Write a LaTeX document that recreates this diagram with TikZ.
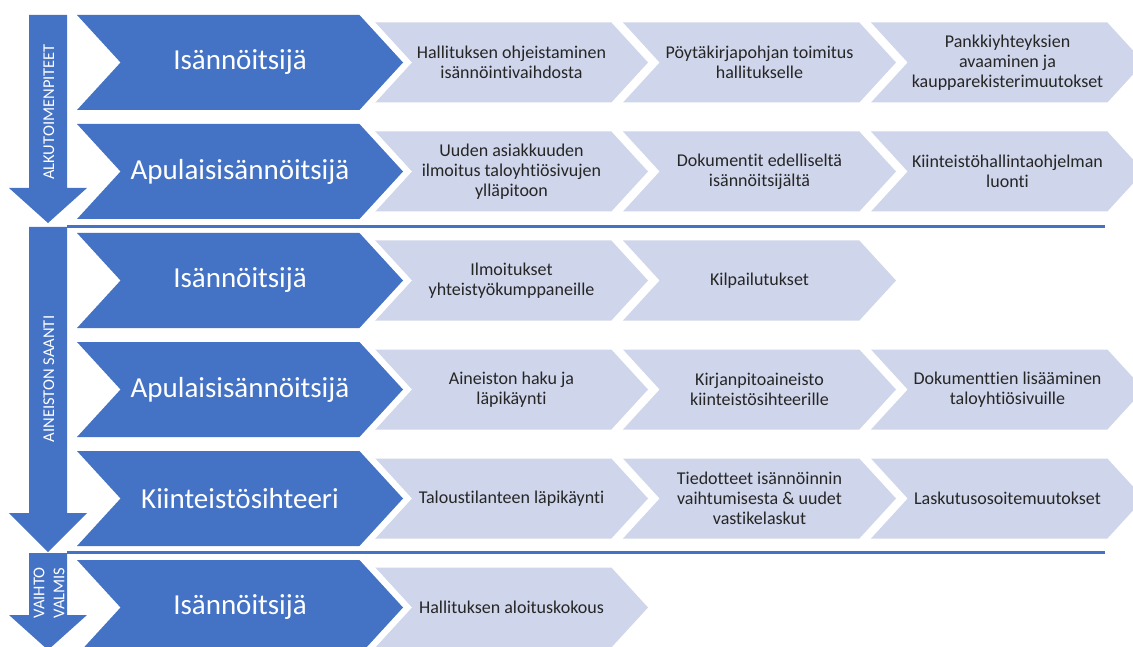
\documentclass[tikz,border=0pt]{standalone}
\usepackage{fontspec}
\setmainfont{Carlito}[Ligatures={TeX,NoCommon}]
\usepackage{tikz}
\usetikzlibrary{shapes.symbols}

\definecolor{roleblue}{HTML}{4472C4}
\definecolor{tasklav}{HTML}{CFD5EA}
\definecolor{tasktext}{HTML}{262626}

\begin{document}
\begin{tikzpicture}[x=1pt, y=-1pt,
    role/.style={signal, signal from=west, signal to=east, signal pointer angle=95, fill=roleblue, minimum width=326pt, minimum height=95pt, inner sep=0pt, text=white, font=\fontsize{29}{34}\selectfont, preaction={draw=white, line width=13pt}},
    task/.style={signal, signal from=west, signal to=east, signal pointer angle=95, fill=tasklav, minimum width=273pt, minimum height=80pt, inner sep=0pt, text=tasktext, align=center, font=\fontsize{18}{20}\selectfont},
    phase/.style={text=white, rotate=90, align=center, inner sep=0pt, font=\fontsize{16.5}{20}\selectfont},
    divider/.style={draw=roleblue, line width=3pt}
]
\useasboundingbox (0,0) rectangle (1133,647);

% Tasks (drawn first, roles overlap them)
\node[task] (t11) at (511.5,62.5) {Hallituksen ohjeistaminen\\isännöintivaihdosta};
\node[task] (t12) at (759.5,62.5) {Pöytäkirjapohjan toimitus\\hallitukselle};
\node[task] (t13) at (1007.5,62.5) {Pankkiyhteyksien\\avaaminen ja\\kaupparekisterimuutokset};

\node[task] (t21) at (511.5,171.5) {Uuden asiakkuuden\\ilmoitus taloyhtiösivujen\\ylläpitoon};
\node[task] (t22) at (759.5,171.5) {Dokumentit edelliseltä\\isännöitsijältä};
\node[task] (t23) at (1007.5,171.5) {Kiinteistöhallintaohjelman\\luonti};

\node[task] (t31) at (511.5,280.5) {Ilmoitukset\\yhteistyökumppaneille};
\node[task] (t32) at (759.5,280.5) {Kilpailutukset};

\node[task] (t41) at (511.5,389.5) {Aineiston haku ja\\läpikäynti};
\node[task] (t42) at (759.5,389.5) {Kirjanpitoaineisto\\kiinteistösihteerille};
\node[task] (t43) at (1007.5,389.5) {Dokumenttien lisääminen\\taloyhtiösivuille};

\node[task] (t51) at (511.5,498.5) {Taloustilanteen läpikäynti};
\node[task] (t52) at (759.5,498.5) {Tiedotteet isännöinnin\\vaihtumisesta \& uudet\\vastikelaskut};
\node[task] (t53) at (1007.5,498.5) {Laskutusosoitemuutokset};

\node[task] (t61) at (511.5,607.5) {Hallituksen aloituskokous};

% Roles
\node[role] (r1) at (240,62.5) {Isännöitsijä};
\node[role] (r2) at (240,171.5) {Apulaisisännöitsijä};
\node[role] (r3) at (240,280.5) {Isännöitsijä};
\node[role] (r4) at (240,389.5) {Apulaisisännöitsijä};
\node[role] (r5) at (240,498.5) {Kiinteistösihteeri};
\node[role] (r6) at (240,607.5) {Isännöitsijä};

% Dividers between phases
\draw[divider] (67,227) -- (1105,227);
\draw[divider] (67,552) -- (1105,552);

% Phase arrows
\foreach \ytop/\yhead/\ytip in {15/188/223, 227/513/552, 553/615/650}
  \fill[roleblue] (29,\ytop) -- (67,\ytop) -- (67,\yhead) -- (87,\yhead) -- (48,\ytip) -- (9,\yhead) -- (29,\yhead) -- cycle;

\node[phase, anchor=base] (p1) at (54,112) {ALKUTOIMENPITEET};
\node[phase, anchor=base] (p2) at (54,379) {AINEISTON SAANTI};
\node[phase] (p3) at (49,593) {VAIHTO\\VALMIS};

\end{tikzpicture}
\end{document}
